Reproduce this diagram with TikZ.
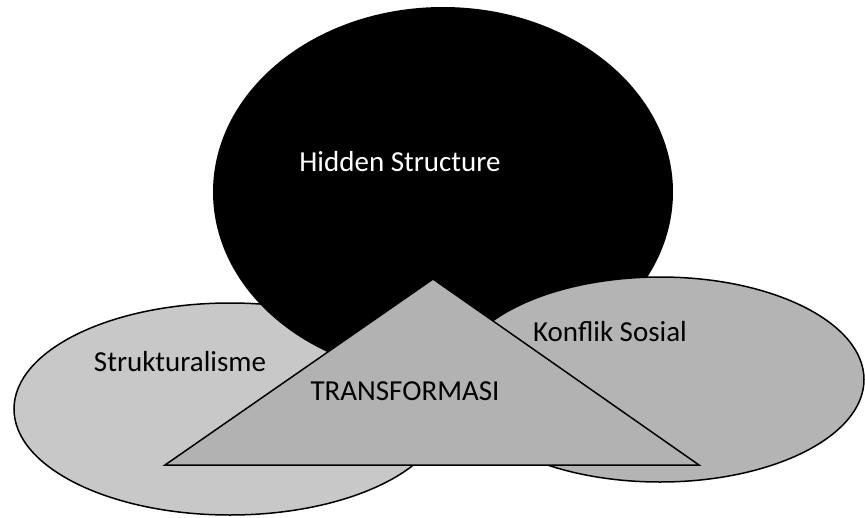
\documentclass[tikz,border=0pt]{standalone}
\usepackage{fontspec}
\setmainfont{Carlito}
\usepackage{tikz}
\definecolor{lightgrey}{RGB}{200,200,200}
\definecolor{midgrey}{RGB}{180,180,180}
\definecolor{trigrey}{RGB}{178,178,178}
\tikzstyle{blob} = [draw=black, line width=1.5pt]
\tikzstyle{label} = [font=\fontsize{29}{34}\selectfont, inner sep=0pt, anchor=base]

\begin{document}
\begin{tikzpicture}[x=1pt, y=-1pt]
\useasboundingbox (0,0) rectangle (865,517);

\draw [blob, fill=lightgrey] (230,409) ellipse [x radius=216, y radius=106];
\fill [black] (443,192) ellipse [x radius=230, y radius=185];
\draw [blob, fill=midgrey] (660,379.5) ellipse [x radius=204, y radius=102.5];

\coordinate (top) at (433,279);
\coordinate (baseL) at (165,465);
\coordinate (baseR) at (699,465);
\draw [blob, fill=trigrey, line join=miter] (top) -- (baseR) -- (baseL) -- cycle;

\node (hidden) [label, text=white] at (400,171) {Hidden Structure};
\node (struk) [label] at (180,371) {Strukturalisme};
\node (konflik) [label] at (610,341) {Konflik Sosial};
\node (trans) [label] at (405,400) {TRANSFORMASI};

\end{tikzpicture}
\end{document}
